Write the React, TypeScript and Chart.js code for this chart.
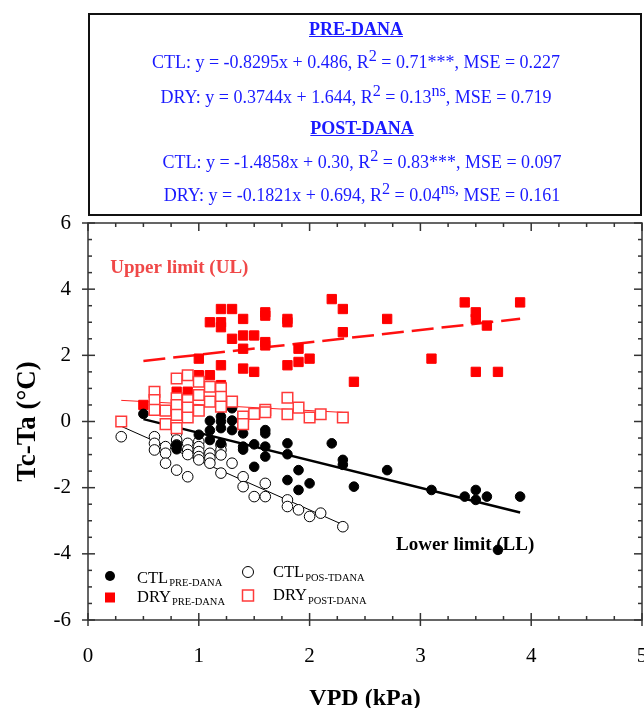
import React, { useEffect, useRef } from "react";
import { Chart, registerables } from "chart.js";

Chart.register(...registerables);

const FONT = "'Liberation Serif', 'Times New Roman', serif";

// ---------- data ----------
const ctlPreX = [0.5, 0.8, 0.8, 1.0, 1.1, 1.1, 1.1, 1.2, 1.2, 1.2, 1.2, 1.3, 1.3, 1.3, 1.4, 1.4, 1.4, 1.5, 1.5, 1.6, 1.6, 1.6, 1.6, 1.8, 1.8, 1.8, 1.9, 1.9, 2.0, 2.2, 2.3, 2.3, 2.4, 2.7, 3.1, 3.4, 3.5, 3.5, 3.6, 3.7, 3.9];
const ctlPreY = [0.23, -0.71, -0.84, -0.4, 0.02, -0.27, -0.56, 0.15, 0.0, -0.2, -0.66, 0.4, 0.03, -0.26, -0.36, -0.76, -0.85, -0.69, -1.37, -0.26, -0.36, -0.76, -1.06, -0.66, -0.99, -1.77, -1.47, -2.07, -1.87, -0.66, -1.16, -1.31, -1.97, -1.47, -2.07, -2.27, -2.07, -2.37, -2.27, -3.88, -2.27];

const ctlPostX = [0.3, 0.6, 0.6, 0.6, 0.7, 0.7, 0.7, 0.8, 0.8, 0.8, 0.8, 0.9, 0.9, 0.9, 0.9, 1.0, 1.0, 1.0, 1.0, 1.0, 1.1, 1.1, 1.1, 1.2, 1.2, 1.2, 1.2, 1.3, 1.4, 1.4, 1.5, 1.6, 1.6, 1.8, 1.8, 1.9, 2.0, 2.1, 2.3];
const ctlPostY = [-0.46, -0.46, -0.66, -0.86, -0.76, -0.96, -1.26, -0.36, -0.56, -0.71, -1.47, -0.66, -0.86, -1.0, -1.67, -0.61, -0.76, -0.91, -1.06, -1.16, -0.96, -1.11, -1.26, -0.71, -0.86, -1.01, -1.56, -1.26, -1.67, -1.97, -2.27, -1.87, -2.27, -2.37, -2.57, -2.67, -2.87, -2.77, -3.18];

const dryPreX = [0.5, 0.8, 0.9, 1.0, 1.1, 1.2, 1.0, 1.2, 1.1, 1.2, 1.2, 1.2, 1.3, 1.3, 1.4, 1.4, 1.4, 1.4, 1.5, 1.5, 1.6, 1.6, 1.6, 1.6, 1.8, 1.8, 1.8, 1.9, 1.9, 2.0, 2.2, 2.3, 2.3, 2.4, 2.7, 3.1, 3.4, 3.5, 3.5, 3.6, 3.5, 3.7, 3.9];
const dryPreY = [0.5, 0.9, 0.9, 1.4, 1.4, 1.1, 1.9, 1.7, 3.0, 3.4, 3.0, 2.85, 3.4, 2.5, 3.1, 2.6, 2.2, 1.6, 2.6, 1.5, 3.3, 3.2, 2.4, 2.3, 3.1, 3.0, 1.7, 2.2, 1.8, 1.9, 3.7, 3.4, 2.7, 1.2, 3.1, 1.9, 3.6, 3.3, 3.1, 2.9, 1.5, 1.5, 3.6];

const dryPostX = [0.3, 0.6, 0.6, 0.6, 0.7, 0.7, 0.8, 0.8, 0.8, 0.8, 0.8, 0.9, 0.9, 0.9, 0.9, 1.0, 1.0, 1.0, 1.1, 1.1, 1.2, 1.2, 1.2, 1.3, 1.4, 1.4, 1.5, 1.6, 1.6, 1.8, 1.8, 1.9, 2.0, 2.1, 2.3];
const dryPostY = [0.0, 0.9, 0.65, 0.35, 0.33, -0.08, 1.3, 0.7, 0.5, 0.2, -0.2, 1.4, 0.65, 0.42, 0.12, 1.2, 0.8, 0.33, 1.05, 0.6, 1.0, 0.75, 0.45, 0.6, 0.15, -0.08, 0.23, 0.35, 0.28, 0.72, 0.22, 0.42, 0.12, 0.22, 0.12];

// regression equations shown in the chart: [slope, intercept, xStart, xEnd]
const ctlPreFit = [-0.8295, 0.486, 0.5, 3.9];
const dryPreFit = [0.3744, 1.644, 0.5, 3.9];
const ctlPostFit = [-1.4858, 0.30, 0.3, 2.3];
const dryPostFit = [-0.1821, 0.694, 0.3, 2.3];

const xTicks = [0, 1, 2, 3, 4, 5];
const yTicks = [-6, -4, -2, 0, 2, 4, 6];
const xMinorStep = 0.25;
const yMinorStep = 0.5;

const legendItems = [
  { marker: "ctlPre", main: "CTL", sub: "PRE-DANA" },
  { marker: "ctlPost", main: "CTL", sub: "POS-TDANA" },
  { marker: "dryPre", main: "DRY", sub: "PRE-DANA" },
  { marker: "dryPost", main: "DRY", sub: "POST-DANA" },
];

const toPts = (xs: number[], ys: number[]) => xs.map((x, i) => ({ x, y: ys[i] }));
const fitPts = (f: number[]) => [
  { x: f[2], y: f[0] * f[2] + f[1] },
  { x: f[3], y: f[0] * f[3] + f[1] },
];

function drawMarker(ctx: CanvasRenderingContext2D, kind: string, cx: number, cy: number) {
  ctx.save();
  if (kind === "ctlPre") {
    ctx.fillStyle = "#000";
    ctx.beginPath();
    ctx.arc(cx, cy, 5, 0, Math.PI * 2);
    ctx.fill();
  } else if (kind === "ctlPost") {
    ctx.strokeStyle = "#000";
    ctx.lineWidth = 1;
    ctx.fillStyle = "#fff";
    ctx.beginPath();
    ctx.arc(cx, cy, 5.5, 0, Math.PI * 2);
    ctx.fill();
    ctx.stroke();
  } else if (kind === "dryPre") {
    ctx.fillStyle = "#ff0000";
    ctx.fillRect(cx - 5, cy - 5, 10, 10);
  } else {
    ctx.strokeStyle = "#ff3a3a";
    ctx.lineWidth = 1.5;
    ctx.fillStyle = "#fff";
    ctx.fillRect(cx - 5.5, cy - 5.5, 11, 11);
    ctx.strokeRect(cx - 5.5, cy - 5.5, 11, 11);
  }
  ctx.restore();
}

const decorPlugin = {
  id: "decor",
  beforeDatasetsDraw(chart: any) {
    const { ctx, scales } = chart;
    const x = scales.x;
    const y = scales.y;
    ctx.save();
    ctx.font = `bold 19px ${FONT}`;
    ctx.textBaseline = "alphabetic";
    ctx.textAlign = "left";
    ctx.fillStyle = "#f04848";
    ctx.fillText("Upper limit (UL)", x.getPixelForValue(0.2), y.getPixelForValue(4.49));
    ctx.fillStyle = "#000";
    ctx.fillText("Lower limit (LL)", x.getPixelForValue(2.78), y.getPixelForValue(-3.88));
    ctx.restore();
  },
  afterDraw(chart: any) {
    const { ctx, chartArea, scales } = chart;
    const { left, right, top, bottom } = chartArea;
    const x = scales.x;
    const y = scales.y;
    ctx.save();
    ctx.strokeStyle = "#333";
    ctx.lineWidth = 1.5;
    ctx.strokeRect(left, top, right - left, bottom - top);
    const line = (x1: number, y1: number, x2: number, y2: number) => {
      ctx.beginPath();
      ctx.moveTo(x1, y1);
      ctx.lineTo(x2, y2);
      ctx.stroke();
    };
    const xMin = x.min, xMax = x.max, yMin = y.min, yMax = y.max;
    const nx = Math.round((xMax - xMin) / xMinorStep);
    for (let i = 0; i <= nx; i++) {
      const v = xMin + i * xMinorStep;
      const px = x.getPixelForValue(v);
      const major = xTicks.some((t) => Math.abs(t - v) < 1e-6);
      line(px, bottom + (major ? 6 : 0), px, bottom - (major ? 7 : 4));
      line(px, top, px, top + (major ? 8 : 4));
    }
    const ny = Math.round((yMax - yMin) / yMinorStep);
    for (let i = 0; i <= ny; i++) {
      const v = yMin + i * yMinorStep;
      const py = y.getPixelForValue(v);
      const major = yTicks.some((t) => Math.abs(t - v) < 1e-6);
      line(left - (major ? 6 : 0), py, left + (major ? 7 : 4), py);
      line(right, py, right - (major ? 8 : 4), py);
    }
    ctx.restore();

    // legend
    const cols = [{ mx: 110, tx: 137 }, { mx: 248, tx: 273 }];
    const rows = [
      [{ my: 576, base: 582.5, subBase: 585.5 }, { my: 572, base: 577, subBase: 580.5 }],
      [{ my: 597.5, base: 601.5, subBase: 605 }, { my: 595.5, base: 600, subBase: 604 }],
    ];
    legendItems.forEach((it, i) => {
      const r = Math.floor(i / 2);
      const c = i % 2;
      const col = cols[c];
      const row = rows[r][c];
      drawMarker(ctx, it.marker, col.mx, row.my);
      ctx.save();
      ctx.fillStyle = "#000";
      ctx.textAlign = "left";
      ctx.textBaseline = "alphabetic";
      ctx.font = `16.5px ${FONT}`;
      ctx.fillText(it.main, col.tx, row.base);
      const w = ctx.measureText(it.main).width;
      ctx.font = `10.5px ${FONT}`;
      ctx.fillText(it.sub, col.tx + w + 1, row.subBase);
      ctx.restore();
    });
  },
};

const boxLine: React.CSSProperties = {
  position: "absolute",
  transform: "translateX(-50%)",
  whiteSpace: "nowrap",
  fontFamily: FONT,
  fontSize: 18,
  lineHeight: "20px",
  color: "#1a1aff",
};
const supStyle: React.CSSProperties = {
  fontSize: "0.9em",
  position: "relative",
  top: "-0.45em",
  verticalAlign: "baseline",
};

export default function App() {
  const canvasRef = useRef<HTMLCanvasElement | null>(null);

  useEffect(() => {
    document.body.style.margin = "0";
    const canvas = canvasRef.current;
    if (!canvas) return;
    const chart = new Chart(canvas, {
      type: "scatter",
      data: {
        datasets: [
          {
            label: "DRY POST-DANA",
            data: toPts(dryPostX, dryPostY),
            pointStyle: "rect",
            pointRadius: 7.5,
            backgroundColor: "#ffffff",
            borderColor: "#ff3a3a",
            borderWidth: 1.5,
          },
          {
            label: "CTL PRE-DANA",
            data: toPts(ctlPreX, ctlPreY),
            pointStyle: "circle",
            pointRadius: 4.8,
            backgroundColor: "#000",
            borderColor: "#000",
            borderWidth: 1,
          },
          {
            label: "DRY PRE-DANA",
            data: toPts(dryPreX, dryPreY),
            pointStyle: "rect",
            pointRadius: 6.6,
            backgroundColor: "#ff0000",
            borderColor: "#ff0000",
            borderWidth: 1,
          },
          {
            label: "CTL POS-TDANA",
            data: toPts(ctlPostX, ctlPostY),
            pointStyle: "circle",
            pointRadius: 5.3,
            backgroundColor: "#ffffff",
            borderColor: "#000",
            borderWidth: 1,
          },
          {
            type: "line",
            label: "fit CTL pre",
            data: fitPts(ctlPreFit),
            borderColor: "#000",
            borderWidth: 2.5,
            pointRadius: 0,
            fill: false,
          },
          {
            type: "line",
            label: "fit CTL post",
            data: fitPts(ctlPostFit),
            borderColor: "#000",
            borderWidth: 1,
            pointRadius: 0,
            fill: false,
          },
          {
            type: "line",
            label: "fit DRY pre",
            data: fitPts(dryPreFit),
            borderColor: "#ff1010",
            borderWidth: 2.5,
            borderDash: [22, 8],
            pointRadius: 0,
            fill: false,
          },
          {
            type: "line",
            label: "fit DRY post",
            data: fitPts(dryPostFit),
            borderColor: "#ff2020",
            borderWidth: 1,
            pointRadius: 0,
            fill: false,
          },
        ] as any,
      },
      options: {
        animation: false,
        responsive: false,
        maintainAspectRatio: false,
        layout: { autoPadding: false, padding: { top: 223, right: 2, left: 0, bottom: 0 } },
        plugins: { legend: { display: false }, tooltip: { enabled: false } },
        scales: {
          x: {
            type: "linear",
            min: 0,
            max: 5,
            afterFit: (s: any) => {
              s.height = 88;
              s.paddingLeft = 0;
              s.paddingRight = 0;
            },
            afterBuildTicks: (s: any) => {
              s.ticks = xTicks.map((v) => ({ value: v }));
            },
            grid: { display: false, drawTicks: false },
            border: { display: false },
            ticks: {
              padding: 24,
              color: "#000",
              font: { family: FONT, size: 21 },
            },
            title: {
              display: true,
              text: "VPD (kPa)",
              color: "#000",
              font: { family: FONT, size: 24, weight: "bold" },
              padding: { top: 0, bottom: -5 },
            },
          },
          y: {
            type: "linear",
            min: -6,
            max: 6,
            afterFit: (s: any) => {
              s.width = 88;
              s.paddingTop = 0;
              s.paddingBottom = 0;
            },
            afterBuildTicks: (s: any) => {
              s.ticks = yTicks.map((v) => ({ value: v }));
            },
            grid: { display: false, drawTicks: false },
            border: { display: false },
            ticks: {
              padding: 17,
              color: "#000",
              font: { family: FONT, size: 21 },
            },
            title: {
              display: true,
              text: "Tc-Ta (°C)",
              color: "#000",
              font: { family: FONT, size: 27, weight: "bold" },
              padding: { top: 12, bottom: 0 },
            },
          },
        },
      },
      plugins: [decorPlugin],
    } as any);
    return () => chart.destroy();
  }, []);

  return (
    <div style={{ position: "relative", width: 644, height: 708, background: "#fff" }}>
      <canvas ref={canvasRef} width={644} height={708} style={{ position: "absolute", left: 0, top: 0 }} />
      <div
        style={{
          position: "absolute",
          left: 88,
          top: 13,
          width: 550,
          height: 199,
          border: "2px solid #111",
        }}
      />
      <div style={{ ...boxLine, left: 356, top: 19, fontWeight: "bold", textDecoration: "underline" }}>PRE-DANA</div>
      <div style={{ ...boxLine, left: 356, top: 52 }}>
        CTL: y = -0.8295x + 0.486, R<span style={supStyle}>2</span> = 0.71***, MSE = 0.227
      </div>
      <div style={{ ...boxLine, left: 356, top: 87 }}>
        DRY: y = 0.3744x + 1.644, R<span style={supStyle}>2</span> = 0.13<span style={supStyle}>ns</span>, MSE = 0.719
      </div>
      <div style={{ ...boxLine, left: 362, top: 118, fontWeight: "bold", textDecoration: "underline" }}>POST-DANA</div>
      <div style={{ ...boxLine, left: 362, top: 152 }}>
        CTL: y = -1.4858x + 0.30, R<span style={supStyle}>2</span> = 0.83***, MSE = 0.097
      </div>
      <div style={{ ...boxLine, left: 362, top: 185 }}>
        DRY: y = -0.1821x + 0.694, R<span style={supStyle}>2</span> = 0.04<span style={supStyle}>ns,</span> MSE = 0.161
      </div>
    </div>
  );
}
